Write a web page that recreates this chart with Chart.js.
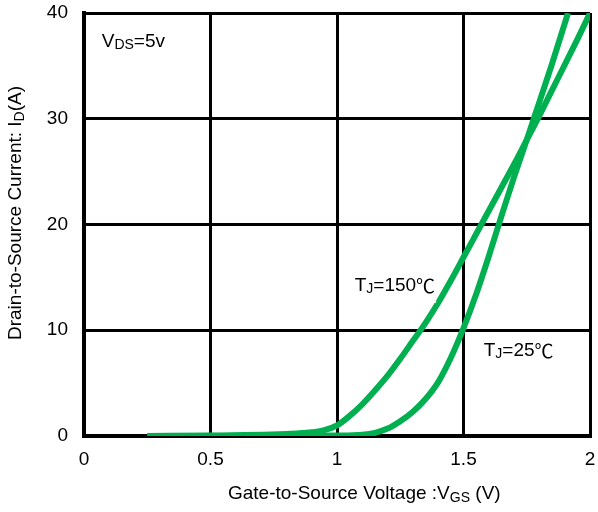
<!DOCTYPE html>
<html>
<head>
<meta charset="utf-8">
<script src="https://cdn.jsdelivr.net/npm/chart.js@4"></script>
<style>
  html, body { margin: 0; padding: 0; background: #fff; }
  #wrap { width: 598px; height: 512px; }
</style>
</head>
<body>
<div id="wrap"><canvas id="chart" width="598" height="512"></canvas></div>
<script>
// Transfer characteristics
const xTicks = [0, 0.5, 1, 1.5, 2];
const yTicks = [0, 10, 20, 30, 40];

const vgs150 = [0.25, 0.5, 0.8, 0.85, 0.9, 0.95, 1.0, 1.05, 1.1, 1.15, 1.2, 1.25, 1.3, 1.35, 1.4, 1.45, 1.5,
                1.55, 1.6, 1.65, 1.7, 1.75, 1.8, 1.85, 1.9, 1.95, 2.0];
const id150  = [0, 0.05, 0.2, 0.25, 0.35, 0.55, 1.0, 1.9, 3.0, 4.3, 5.7, 7.3, 9.0, 10.7, 12.6, 14.7, 16.9,
                19.1, 21.3, 23.5, 25.7, 28.0, 30.3, 32.7, 35.1, 37.5, 40];

const vgs25 = [0.25, 1.0, 1.1, 1.15, 1.2, 1.25, 1.3, 1.35, 1.4, 1.45, 1.5, 1.55, 1.6, 1.65, 1.7, 1.75, 1.8, 1.85, 1.913];
const id25  = [0, 0.05, 0.12, 0.3, 0.7, 1.4, 2.3, 3.5, 5.1, 7.4, 10.2, 13.4, 17.0, 20.8, 24.5, 28.0, 31.6, 35.2, 40];

const seriesNames = ['TJ=150℃', 'TJ=25℃'];

const green = '#00b050';
const font = 'Arial, "Liberation Sans", sans-serif';
const cjk = '"Noto Sans CJK SC", sans-serif';
const fs = 19;

function pts(xs, ys) {
  return xs.map((x, i) => ({ x: x, y: ys[i] }));
}

// text made of [string, isSubscript, fontFamily?] parts
function setFont(ctx, p, size) {
  ctx.font = (p[1] ? Math.round(size * 0.72) : size) + 'px ' + (p[2] || font);
}
function drawParts(ctx, parts, x, y, size) {
  let cx = x;
  parts.forEach(p => {
    setFont(ctx, p, size);
    ctx.fillText(p[0], cx, y + (p[1] ? size * 0.2 : 0));
    cx += ctx.measureText(p[0]).width;
  });
  return cx - x;
}
function partsWidth(ctx, parts, size) {
  let w = 0;
  parts.forEach(p => {
    setFont(ctx, p, size);
    w += ctx.measureText(p[0]).width;
  });
  return w;
}

const labelsPlugin = {
  id: 'labels',
  afterDraw(chart) {
    const ctx = chart.ctx;
    const xs = chart.scales.x, ys = chart.scales.y;
    ctx.save();
    ctx.fillStyle = '#000';
    ctx.textBaseline = 'middle';
    ctx.textAlign = 'left';

    // curve labels
    drawParts(ctx, [['V', false], ['DS', true], ['=5v', false]], xs.getPixelForValue(0.07), ys.getPixelForValue(37.3), fs);

    const p150 = [['T', false], ['J', true], ['=150', false], ['℃', false, cjk]];
    const lx = xs.getPixelForValue(1.07), ly = ys.getPixelForValue(14.2);
    ctx.fillStyle = '#fff';
    ctx.fillRect(lx - 2, ly - 11, partsWidth(ctx, p150, fs) + 3, 28);
    ctx.fillStyle = '#000';
    drawParts(ctx, p150, lx, ly, fs);

    drawParts(ctx, [['T', false], ['J', true], ['=25', false], ['℃', false, cjk]], xs.getPixelForValue(1.58), ys.getPixelForValue(8.1), fs);

    // x axis title
    drawParts(ctx, [['Gate-to-Source Voltage :V', false], ['GS', true], [' (V)', false]], 228, 494, fs);

    // y axis title
    const yt = [['Drain-to-Source Current: I', false], ['D', true], ['(A)', false]];
    const wy = partsWidth(ctx, yt, fs);
    ctx.translate(16, 213);
    ctx.rotate(-Math.PI / 2);
    drawParts(ctx, yt, -wy / 2, 0, fs);
    ctx.restore();
  }
};

function noPad(s) {
  s.paddingLeft = 0; s.paddingRight = 0; s.paddingTop = 0; s.paddingBottom = 0;
}

new Chart(document.getElementById('chart').getContext('2d'), {
  type: 'line',
  data: {
    datasets: [
      { label: seriesNames[0], data: pts(vgs150, id150) },
      { label: seriesNames[1], data: pts(vgs25, id25) }
    ].map(d => Object.assign(d, {
      borderColor: green,
      borderWidth: 6,
      pointRadius: 0,
      fill: false,
      cubicInterpolationMode: 'monotone'
    }))
  },
  options: {
    responsive: false,
    animation: false,
    layout: { padding: { top: 13, right: 8, left: 0, bottom: 0 } },
    plugins: { legend: { display: false }, tooltip: { enabled: false } },
    scales: {
      x: {
        type: 'linear',
        min: xTicks[0],
        max: xTicks[xTicks.length - 1],
        afterFit: s => { s.height = 76; noPad(s); },
        afterBuildTicks: s => { s.ticks = xTicks.map(v => ({ value: v })); },
        ticks: {
          color: '#000',
          font: { family: font, size: fs },
          padding: 12,
          maxRotation: 0,
          callback: v => String(v)
        },
        grid: { color: '#000', lineWidth: 3, drawTicks: false },
        border: { color: '#000', width: 4 }
      },
      y: {
        min: yTicks[0],
        max: yTicks[yTicks.length - 1],
        afterFit: s => { s.width = 84; noPad(s); },
        afterBuildTicks: s => { s.ticks = yTicks.map(v => ({ value: v })); },
        ticks: {
          color: '#000',
          font: { family: font, size: fs },
          padding: 16
        },
        grid: { color: '#000', lineWidth: 3, drawTicks: false },
        border: { color: '#000', width: 4 }
      }
    }
  },
  plugins: [labelsPlugin]
});
</script>
</body>
</html>
